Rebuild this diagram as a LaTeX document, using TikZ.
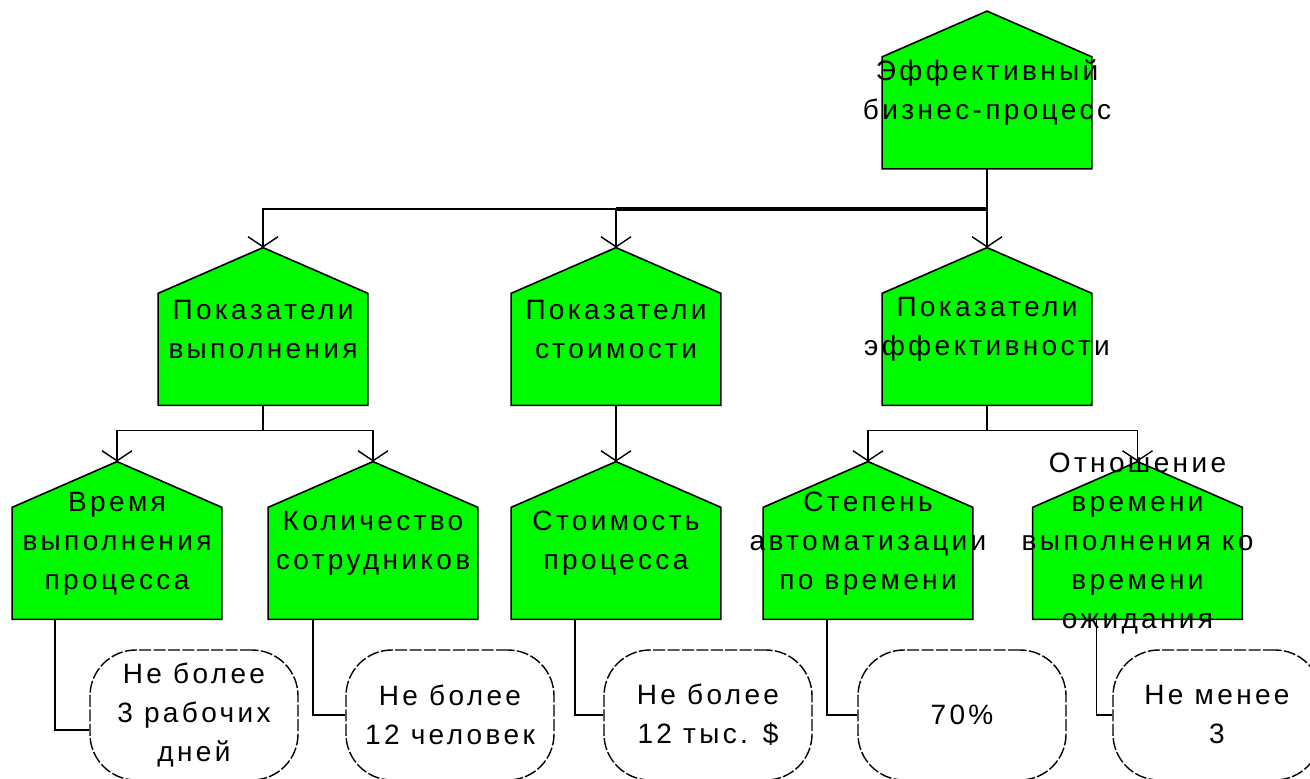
\documentclass[tikz,border=0pt]{standalone}
\usepackage{fontspec}
\setmainfont{Liberation Sans}[LetterSpace=12]
\usetikzlibrary{arrows.meta, positioning, calc}

\definecolor{housegreen}{RGB}{0,250,0}

\begin{document}
\begin{tikzpicture}[
      x=0.5pt, y=-0.5pt,
      house/.style={rectangle, minimum width=104.5pt, minimum height=78.5pt, inner sep=0pt},
      roof/.style={fill=housegreen, draw=black, line width=0.8pt},
      txt/.style={align=center, inner sep=0pt, yshift=-1.5pt, font=\fontsize{14}{19.5}\selectfont},
      goal/.style={rectangle, rounded corners=23pt, draw=black, fill=white, line width=0.7pt,
        dash pattern=on 6pt off 1.2pt, minimum width=104pt, minimum height=65pt, align=center,
        inner sep=0pt, font=\fontsize{14}{19.5}\selectfont},
      arrow/.style={-{Straight Barb[length=5pt, width=15pt]}, line width=0.7pt},
      link/.style={line width=0.7pt}
    ]
    \clip (0,0) rectangle (1310,779);

    % house nodes (shape drawn below)
    \node[house] (t) at (987,90) {};
    \node[house] (p1) at (263,326.5) {};
    \node[house] (p2) at (616,326.5) {};
    \node[house] (p3) at (987,326.5) {};
    \node[house] (v1) at (117,540.5) {};
    \node[house] (v2) at (373,540.5) {};
    \node[house] (v3) at (616,540.5) {};
    \node[house] (v4) at (868,540.5) {};
    \node[house] (v5) at (1137.5,540.5) {};

    \foreach \n in {t,p1,p2,p3,v1,v2,v3,v4,v5}
      \draw[roof] (\n.south west) -- (\n.south east)
        -- ($(\n.north east)!0.29!(\n.south east)$) -- (\n.north)
        -- ($(\n.north west)!0.29!(\n.south west)$) -- cycle;

    \node[txt] (t-l) at (t) {Эффективный\\бизнес-процесс};
    \node[txt] (p1-l) at (p1) {Показатели\\выполнения};
    \node[txt] (p2-l) at (p2) {Показатели\\стоимости};
    \node[txt] (p3-l) at (p3) {Показатели\\эффективности};
    \node[txt] (v1-l) at (v1) {Время\\выполнения\\процесса};
    \node[txt] (v2-l) at (v2) {Количество\\сотрудников};
    \node[txt] (v3-l) at (v3) {Стоимость\\процесса};
    \node[txt] (v4-l) at (v4) {Степень\\автоматизации\\по времени};
    \node[txt] (v5-l) at (v5) {Отношение\\времени\\выполнения ко\\времени\\ожидания};

    % target values
    \node[goal] (o1) at (194,715) {Не более\\3 рабочих\\дней};
    \node[goal] (o2) at (450,715) {Не более\\12 человек};
    \node[goal] (o3) at (708,715) {Не более\\12 тыс. \$};
    \node[goal] (o4) at (962,715) {70\%};
    \node[goal] (o5) at (1217,715) {Не менее\\3};

    % tree
    \coordinate (j1) at ($(t.south)+(0,40)$);
    \draw[arrow] (t.south) -- (p3.north);
    \draw[arrow] (j1) -| (p1.north);
    \draw[arrow] (j1) -| (p2.north);
    \draw[link, line width=1.7pt] (j1) -- (j1 -| p2.north);

    \coordinate (j2) at ($(p1.south)+(0,25)$);
    \draw[link] (p1.south) -- (j2);
    \draw[arrow] (j2) -| (v1.north);
    \draw[arrow] (j2) -| (v2.north);
    \draw[arrow] (p2.south) -- (v3.north);
    \coordinate (j3) at ($(p3.south)+(0,25)$);
    \draw[link] (p3.south) -- (j3);
    \draw[arrow] (j3) -| (v4.north);
    \draw[arrow] (j3) -| (v5.north);

    % legs to the values
    \draw[link] ([xshift=-31pt]v1.south) |- ([yshift=-7.5pt]o1.west);
    \draw[link] ([xshift=-30pt]v2.south) |- (o2.west);
    \draw[link] ([xshift=-20.5pt]v3.south) |- (o3.west);
    \draw[link] ([xshift=-20.5pt]v4.south) |- (o4.west);
    \draw[link] ([xshift=-20.5pt]v5.south) |- (o5.west);
  \end{tikzpicture}
\end{document}
